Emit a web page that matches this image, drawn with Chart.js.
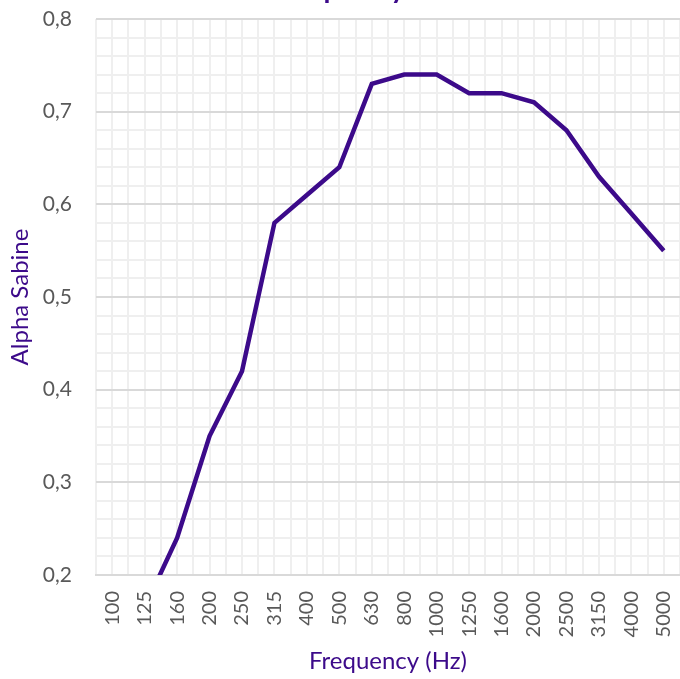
<!DOCTYPE html>
<html>
<head>
<meta charset="utf-8">
<script src="https://cdn.jsdelivr.net/npm/chart.js@4.4.1/dist/chart.umd.min.js"></script>
<style>
  html, body { margin: 0; padding: 0; background: #fff; overflow: hidden; }
  #wrap { position: relative; width: 680px; height: 679px; }
</style>
</head>
<body>
<div id="wrap"><canvas id="chart"></canvas></div>
<script>
const frequencies = ["100", "125", "160", "200", "250", "315", "400", "500", "630",
  "800", "1000", "1250", "1600", "2000", "2500", "3150", "4000", "5000"];
const alphaSabine = [0.13, 0.165, 0.24, 0.35, 0.42, 0.58, 0.61, 0.64, 0.73,
  0.74, 0.74, 0.72, 0.72, 0.71, 0.68, 0.63, 0.59, 0.55];
const titleText = "Frequency";

const purple = "#3c0a8a";
const labelGrey = "#595959";
const font = "Lato";

// title sits above the canvas, only its descenders show
const cutTitle = {
  id: "cutTitle",
  afterDraw(chart) {
    const { ctx, chartArea } = chart;
    ctx.save();
    ctx.font = "bold 28px " + font;
    ctx.fillStyle = purple;
    ctx.textAlign = "center";
    ctx.textBaseline = "alphabetic";
    ctx.fillText(titleText, chart.width / 2, chartArea.top - 21);
    ctx.restore();
  }
};

const isMajor = (v) => Math.round(v * 50) % 5 === 0;

new Chart(document.getElementById("chart"), {
  type: "line",
  data: {
    labels: frequencies,
    datasets: [{
      data: alphaSabine,
      borderColor: purple,
      borderWidth: 4.5,
      pointRadius: 0,
      tension: 0,
      xAxisID: "x",
    }],
  },
  options: {
    responsive: true,
    maintainAspectRatio: false,
    animation: false,
    layout: { padding: { top: 19, right: 0, bottom: 3, left: 6 } },
    plugins: { legend: { display: false }, tooltip: { enabled: false } },
    scales: {
      x: {
        type: "category",
        offset: true,
        grid: { display: false },
        border: { display: true, color: "#d9d9d9", width: 2 },
        ticks: {
          color: labelGrey,
          font: { family: font, size: 20 },
          minRotation: 90,
          maxRotation: 90,
          autoSkip: false,
          padding: 8,
        },
        title: {
          display: true,
          text: "Frequency (Hz)",
          color: purple,
          font: { family: font, size: 24 },
          padding: { top: 0, bottom: 0 },
        },
        afterFit: (s) => { s.height = 101; s.paddingLeft = 0; s.paddingRight = 0; },
      },
      xg: {
        type: "linear",
        position: "top",
        min: -0.5,
        max: frequencies.length - 0.5,
        grid: { color: "#efefef", lineWidth: 2, drawTicks: false },
        border: { display: false },
        ticks: { display: false, stepSize: 0.5, maxTicksLimit: 100, autoSkip: false },
        afterFit: (s) => { s.height = 0; s.paddingLeft = 0; s.paddingRight = 0; },
      },
      y: {
        min: 0.2,
        max: 0.8,
        grid: {
          drawTicks: false,
          lineWidth: 2,
          color: (c) => (isMajor(c.tick.value) ? "#d9d9d9" : "#efefef"),
        },
        border: { display: false },
        ticks: {
          stepSize: 0.02,
          autoSkip: false,
          padding: 24,
          color: labelGrey,
          font: { family: font, size: 21 },
          callback: (v) => (isMajor(v) ? v.toFixed(1).replace(".", ",") : ""),
        },
        title: {
          display: true,
          text: "Alpha Sabine",
          color: purple,
          font: { family: font, size: 24 },
          padding: { top: 0, bottom: 0 },
        },
        afterFit: (s) => { s.width = 90; s.paddingTop = 0; s.paddingBottom = 0; },
      },
    },
  },
  plugins: [cutTitle],
});
</script>
</body>
</html>
